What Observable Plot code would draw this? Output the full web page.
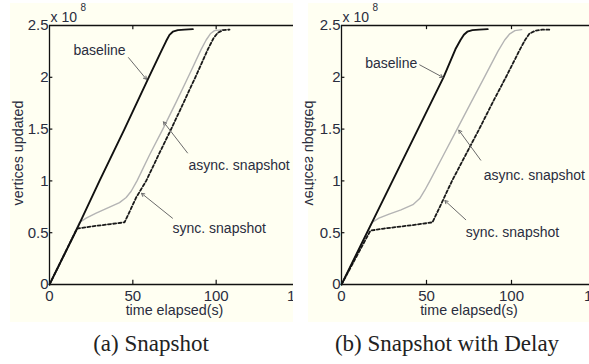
<!DOCTYPE html>
<html>
<head>
<meta charset="utf-8">
<script src="https://cdn.jsdelivr.net/npm/d3@7"></script>
<script src="https://cdn.jsdelivr.net/npm/@observablehq/plot@0.6"></script>
<style>
  body { margin: 0; background: #ffffff; }
  #wrap { position: relative; width: 589px; height: 364px; overflow: hidden; background: #fff; }
  .panel { position: absolute; top: 0; height: 322px; overflow: hidden; }
  .cream { position: absolute; top: 3px; bottom: 0; right: 0; background: #fffff2; }
  .panel svg { position: absolute; left: 0; top: 0; max-width: none !important; }
  .cap { position: absolute; font-family: "Liberation Serif", "Times New Roman", serif; font-size: 23px; color: #222; transform: translateX(-50%); white-space: nowrap; }
</style>
</head>
<body>
<div id="wrap">
  <div class="panel" id="pa" style="left:0px;width:293px;"><div class="cream" style="left:10px;"></div></div>
  <div class="panel" id="pb" style="left:295px;width:294px;"><div class="cream" style="left:13px;"></div></div>
  <div class="cap" style="left:151px;top:331px;">(a) Snapshot</div>
  <div class="cap" style="left:447px;top:331px;">(b) Snapshot with Delay</div>
</div>
<script>
// ---------- data (time elapsed in s, vertices updated in units of 1e8) ----------
const xTicks = [0, 50, 100, 150];
const xTickLabels = ["0", "50", "100", "150"];
const yTicks = [0, 0.5, 1, 1.5, 2, 2.5];
const yTickLabels = ["0", "0.5", "1", "1.5", "2", "2.5"];

// (a) Snapshot
const timeA_base  = [0, 16, 30, 45, 59, 67, 70, 72, 74, 77, 81, 86];
const vertA_base  = [0, 0.52, 1.0, 1.5, 1.98, 2.25, 2.35, 2.41, 2.44, 2.455, 2.46, 2.465];
const timeA_async = [0, 18, 22, 28, 35, 42, 46, 49, 52.5, 60, 68, 76, 84, 91, 94, 96.5, 99, 104];
const vertA_async = [0, 0.6, 0.64, 0.69, 0.74, 0.79, 0.84, 0.9, 1.0, 1.25, 1.5, 1.76, 2.03, 2.27, 2.36, 2.42, 2.45, 2.46];
const timeA_sync  = [0, 16.5, 25, 35, 45, 48, 52, 58, 66, 73, 80, 87.5, 95, 98.5, 101, 104, 108];
const vertA_sync  = [0, 0.54, 0.56, 0.58, 0.6, 0.7, 0.84, 1.0, 1.27, 1.5, 1.74, 2.0, 2.27, 2.38, 2.43, 2.455, 2.46];

// (b) Snapshot with Delay
const timeB_base  = [0, 15, 30, 45, 60, 67, 70, 72, 74, 77, 81, 86];
const vertB_base  = [0, 0.5, 1.0, 1.5, 2.0, 2.27, 2.36, 2.41, 2.44, 2.455, 2.46, 2.465];
const timeB_async = [0, 18, 22, 28, 35, 42, 46, 49, 52, 60, 68, 76, 84, 92, 96, 99, 102, 106];
const vertB_async = [0, 0.6, 0.64, 0.68, 0.72, 0.77, 0.83, 0.91, 1.0, 1.25, 1.5, 1.75, 2.0, 2.25, 2.36, 2.42, 2.45, 2.46];
const timeB_sync  = [0, 17, 25, 35, 45, 53.5, 57, 61, 65, 73, 81, 89, 97, 105, 108, 110.5, 114, 118, 123];
const vertB_sync  = [0, 0.52, 0.54, 0.56, 0.58, 0.6, 0.72, 0.86, 1.0, 1.25, 1.5, 1.76, 2.01, 2.27, 2.36, 2.42, 2.45, 2.46, 2.46];

// annotation labels: [text x, text y, arrow start x, y, arrow end x, y]
const labelNames = ["baseline", "async. snapshot", "sync. snapshot"];
const annA = [
  [14.4, 2.26, 47.4, 2.19, 58.2, 1.98],
  [83.4, 1.15, 82.8, 1.27, 68.4, 1.57],
  [73.8, 0.54, 73.8, 0.64, 55.2, 0.88]
];
const annB = [
  [13.9, 2.13, 46.0, 2.12, 59.6, 2.0],
  [83.7, 1.05, 81.9, 1.2, 69.0, 1.49],
  [73.1, 0.50, 73.1, 0.625, 60.8, 0.81]
];

const zip = (t, v) => t.map((d, i) => ({t: d, v: v[i]}));
const textColor = "#2a2d3e";

function panel(opts) {
  const {base, asyncS, syncS, ann, marginLeft, width, mirrorLabel, labelX} = opts;
  const annRows = ann.map((a, i) => ({name: labelNames[i], tx: a[0], ty: a[1], x1: a[2], y1: a[3], x2: a[4], y2: a[5]}));
  const plot = Plot.plot({
    width, height: 322,
    marginLeft, marginRight: 1, marginTop: 25, marginBottom: 38,
    x: {domain: [0, 150], axis: null},
    y: {domain: [0, 2.5], axis: null},
    style: {background: "transparent", fontFamily: "'Liberation Sans', Arial, sans-serif", fontSize: "15px", color: textColor, overflow: "visible", maxWidth: "none"},
    marks: [
      // frame
      Plot.ruleY([0, 2.5], {stroke: "#111", strokeWidth: 1.3}),
      Plot.ruleX([0], {y1: 0, y2: 2.5, stroke: "#111", strokeWidth: 1.3}),
      // ticks
      Plot.ruleY(yTicks.slice(1, -1), {x1: 0, x2: 2, stroke: "#111", strokeWidth: 1.2}),
      Plot.ruleX(xTicks.slice(1), {y1: 0, y2: 0.04, stroke: "#111", strokeWidth: 1.2}),
      Plot.ruleX(xTicks.slice(1), {y1: 2.5, y2: 2.46, stroke: "#111", strokeWidth: 1.2}),
      // tick labels
      Plot.text(yTicks, {x: 0, y: d => d, text: (d, i) => yTickLabels[i], textAnchor: "end", dx: -1, fill: textColor, fontSize: 15}),
      Plot.text(xTicks, {x: d => d, y: 0, text: (d, i) => xTickLabels[i], dy: 12, fill: textColor, fontSize: 15}),
      // exponent
      Plot.text(["x 10"], {x: 0, y: 2.5, textAnchor: "start", dx: 1, dy: -8, fill: textColor, fontSize: 14}),
      Plot.text(["8"], {x: 0, y: 2.5, textAnchor: "start", dx: 31, dy: -18, fill: textColor, fontSize: 10}),
      // axis title
      Plot.text(["time elapsed(s)"], {x: 75, y: 0, dy: 26, fill: textColor, fontSize: 14.3}),
      // series
      Plot.line(asyncS, {x: "t", y: "v", stroke: "#b4b4b4", strokeWidth: 1.4}),
      Plot.line(syncS, {x: "t", y: "v", stroke: "#1a1a1a", strokeWidth: 1.8, strokeDasharray: "3,2.2"}),
      Plot.line(base, {x: "t", y: "v", stroke: "#111", strokeWidth: 1.9}),
      // annotations
      Plot.arrow(annRows, {x1: "x1", y1: "y1", x2: "x2", y2: "y2", stroke: "#6a6a6a", strokeWidth: 1, headLength: 5}),
      Plot.text(annRows, {x: "tx", y: "ty", text: "name", textAnchor: "start", fill: textColor, fontSize: 14})
    ]
  });
  // y axis title (rotated; mirrored in panel b as in the reference)
  const ns = "http://www.w3.org/2000/svg";
  const t = document.createElementNS(ns, "text");
  t.textContent = "vertices updated";
  t.setAttribute("font-size", "14.3");
  t.setAttribute("fill", textColor);
  t.setAttribute("text-anchor", "middle");
  t.setAttribute("dominant-baseline", "central");
  t.setAttribute("transform", `translate(${labelX},153) rotate(-90)` + (mirrorLabel ? " scale(1,-1)" : ""));
  plot.appendChild(t);
  return plot;
}

document.getElementById("pa").appendChild(panel({
  base: zip(timeA_base, vertA_base), asyncS: zip(timeA_async, vertA_async), syncS: zip(timeA_sync, vertA_sync),
  ann: annA, marginLeft: 49, width: 300, mirrorLabel: false, labelX: 18
}));
document.getElementById("pb").appendChild(panel({
  base: zip(timeB_base, vertB_base), asyncS: zip(timeB_async, vertB_async), syncS: zip(timeB_sync, vertB_sync),
  ann: annB, marginLeft: 46, width: 302, mirrorLabel: true, labelX: 15
}));
</script>
</body>
</html>
